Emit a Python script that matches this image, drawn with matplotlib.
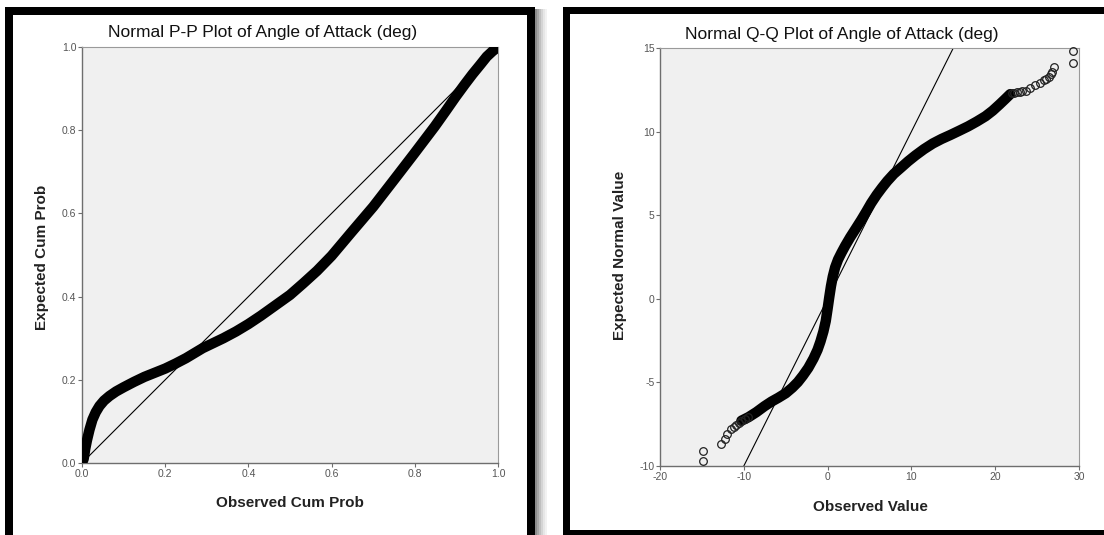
import matplotlib.pyplot as plt
from matplotlib.patches import Rectangle

plt.rcParams['font.family'] = ['Liberation Sans', 'DejaVu Sans']
plt.rcParams['axes.unicode_minus'] = False

W, H = 1104, 535

# P-P plot: observed vs expected cumulative probability
pp_observed = [0.0, 0.004, 0.008, 0.012, 0.018, 0.025, 0.033, 0.042, 0.053, 0.066,
               0.082, 0.10, 0.125, 0.15, 0.175, 0.20, 0.225, 0.25, 0.27, 0.29,
               0.315, 0.34, 0.37, 0.40, 0.43, 0.465, 0.50, 0.532, 0.565, 0.60,
               0.648, 0.70, 0.748, 0.798, 0.848, 0.875, 0.898, 0.92, 0.939,
               0.957, 0.973, 0.987, 1.0]
pp_expected = [0.0, 0.01, 0.035, 0.055, 0.08, 0.104, 0.122, 0.137, 0.15, 0.161,
               0.172, 0.182, 0.195, 0.207, 0.217, 0.227, 0.239, 0.252, 0.264, 0.276,
               0.288, 0.30, 0.316, 0.334, 0.354, 0.379, 0.404, 0.432, 0.462, 0.498,
               0.555, 0.616, 0.678, 0.743, 0.809, 0.847, 0.88, 0.91, 0.935,
               0.957, 0.977, 0.99, 1.0]

# Q-Q plot: dense middle section
qq_observed = [-10.28, -9.44, -8.5, -7.55, -6.7, -5.88, -5.0, -4.2, -3.55, -2.94,
               -2.3, -1.68, -1.2, -0.85, -0.5, -0.22, 0.0, 0.2, 0.4, 0.62,
               0.9, 1.25, 1.65, 2.09, 2.7, 3.34, 4.0, 4.6, 5.2, 5.86,
               6.5, 7.12, 7.9, 8.79, 9.6, 10.47, 11.5, 12.56, 13.6, 14.66,
               15.7, 16.76, 17.8, 18.85, 19.7, 20.53, 21.2, 21.79]
qq_expected = [-7.29, -7.08, -6.78, -6.43, -6.15, -5.92, -5.65, -5.31, -4.98, -4.59,
               -4.13, -3.57, -3.05, -2.55, -1.95, -1.33, -0.6, 0.1, 0.75, 1.33,
               1.88, 2.35, 2.75, 3.16, 3.68, 4.18, 4.7, 5.2, 5.72, 6.22,
               6.65, 7.04, 7.47, 7.86, 8.22, 8.57, 8.95, 9.29, 9.56, 9.8,
               10.05, 10.31, 10.6, 10.92, 11.25, 11.63, 11.95, 12.24]
# Q-Q plot: sparse tail points
qq_tail_observed = [-14.89, -14.89, -12.67, -12.25, -11.95, -11.53, -11.2, -10.9,
                    -10.6, -10.28, -9.9, -9.44, 22.0, 22.3, 22.62, 22.9, 23.2,
                    23.67, 24.2, 24.72, 25.3, 25.77, 26.1, 26.4, 26.6, 26.8, 27.0,
                    29.25, 29.25]
qq_tail_expected = [-9.08, -9.73, -8.71, -8.37, -8.06, -7.76, -7.65, -7.55,
                    -7.42, -7.29, -7.2, -7.08, 12.28, 12.3, 12.35, 12.38, 12.4,
                    12.45, 12.6, 12.76, 12.9, 13.06, 13.15, 13.27, 13.42, 13.57, 13.84,
                    14.08, 14.8]

pp_ticks = [0.0, 0.2, 0.4, 0.6, 0.8, 1.0]
pp_ticklabels = ['0.0', '0.2', '0.4', '0.6', '0.8', '1.0']
qq_xticks = [-20, -10, 0, 10, 20, 30]
qq_yticks = [-10, -5, 0, 5, 10, 15]


def fx(x):
    return x / W


def fy(y):
    return 1 - y / H


fig = plt.figure(figsize=(W / 100, H / 100), dpi=100)
fig.patch.set_facecolor('white')


def frame(x0, y0, x1, y1, t_side, t_bottom):
    # black outer border with white inside
    fig.add_artist(Rectangle((fx(x0), fy(y1)), fx(x1 - x0), (y1 - y0) / H,
                             transform=fig.transFigure, facecolor='black',
                             edgecolor='none', zorder=0))
    fig.add_artist(Rectangle((fx(x0 + t_side), fy(y1 - t_bottom)),
                             fx(x1 - x0 - 2 * t_side), (y1 - y0 - t_side - t_bottom) / H,
                             transform=fig.transFigure, facecolor='white',
                             edgecolor='none', zorder=0))


frame(5, 7, 535, 540, 8, 3)
frame(563, 7, 1112, 535, 7, 5)

# soft shadow to the right of the left panel
for i, g in enumerate([0.55, 0.65, 0.75, 0.83, 0.9, 0.95]):
    fig.add_artist(Rectangle((fx(535 + 2 * i), 0), fx(2), fy(9),
                             transform=fig.transFigure, facecolor=str(g),
                             edgecolor='none', zorder=0))


def style_axes(ax):
    ax.set_facecolor('#f0f0f0')
    for side in ['left', 'bottom']:
        ax.spines[side].set_color('#6e6e6e')
        ax.spines[side].set_linewidth(1.0)
    for side in ['top', 'right']:
        ax.spines[side].set_color('#9a9a9a')
        ax.spines[side].set_linewidth(0.8)
    ax.tick_params(direction='out', length=3, width=0.8, color='#6e6e6e',
                   labelsize=7.5, labelcolor='#555555', pad=1)


# left panel: P-P plot
ax1 = fig.add_axes([fx(82), fy(463), fx(498 - 82), (463 - 47) / H])
style_axes(ax1)
ax1.plot([0, 1], [0, 1], color='black', lw=0.8, zorder=2)
ax1.plot(pp_observed, pp_expected, color='black', lw=7.5,
         solid_capstyle='round', solid_joinstyle='round', zorder=3)
ax1.set_xlim(0, 1)
ax1.set_ylim(0, 1)
ax1.set_xticks(pp_ticks)
ax1.set_xticklabels(pp_ticklabels)
ax1.set_yticks(pp_ticks)
ax1.set_yticklabels(pp_ticklabels)

fig.text(fx(263), fy(33), 'Normal P-P Plot of Angle of Attack (deg)',
         ha='center', va='center', fontsize=12.5, color='#111111')
fig.text(fx(290), fy(503), 'Observed Cum Prob', ha='center', va='center',
         fontsize=11, fontweight='bold', color='#222222')
fig.text(fx(42), fy(257), 'Expected Cum Prob', ha='center', va='center',
         fontsize=11, fontweight='bold', color='#222222', rotation=90)

# right panel: Q-Q plot
ax2 = fig.add_axes([fx(660), fy(466), fx(1079 - 660), (466 - 48) / H])
style_axes(ax2)
ax2.plot([-10, 15], [-10, 15], color='black', lw=0.8, zorder=2)
ax2.plot(qq_observed, qq_expected, color='black', lw=7.5,
         solid_capstyle='round', solid_joinstyle='round', zorder=3)
ax2.plot(qq_tail_observed, qq_tail_expected, linestyle='none', marker='o',
         markersize=5.5, markerfacecolor='none', markeredgecolor='#222222',
         markeredgewidth=0.9, zorder=3, clip_on=False)
ax2.set_xlim(-20, 30)
ax2.set_ylim(-10, 15)
ax2.set_xticks(qq_xticks)
ax2.set_yticks(qq_yticks)

fig.text(fx(842), fy(35), 'Normal Q-Q Plot of Angle of Attack (deg)',
         ha='center', va='center', fontsize=12.5, color='#111111')
fig.text(fx(870), fy(507), 'Observed Value', ha='center', va='center',
         fontsize=11, fontweight='bold', color='#222222')
fig.text(fx(620), fy(255), 'Expected Normal Value', ha='center', va='center',
         fontsize=11, fontweight='bold', color='#222222', rotation=90)

fig.savefig('out.png', dpi=100)
